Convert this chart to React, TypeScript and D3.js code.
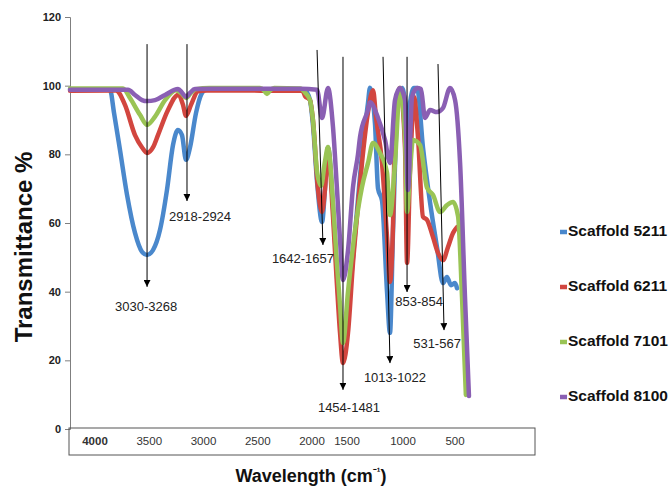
import React, { useEffect, useRef } from "react";
import * as d3 from "d3";

// FTIR spectra: [wavenumber (cm-1), transmittance %]
const scaffold5211: [number, number][] = [
  [3824, 98.8], [3473, 98.8], [3437, 92.0], [3385, 81.3], [3323, 68.2], [3253, 57.1],
  [3191, 51.6], [3147, 50.7], [3095, 52.1], [3033, 58.0], [2972, 69.6], [2919, 82.7],
  [2875, 87.1], [2840, 85.6], [2805, 78.4], [2770, 81.9], [2717, 92.0], [2673, 97.3],
  [2629, 98.8], [2300, 98.9], [2000, 98.8], [1759, 98.6], [1715, 95.8], [1689, 88.6],
  [1653, 72.0], [1609, 60.3], [1583, 70.0], [1557, 82.0], [1513, 65.0], [1478, 45.0],
  [1451, 32.0], [1425, 27.4], [1381, 35.0], [1337, 50.0], [1293, 67.0], [1258, 80.0],
  [1205, 95.0], [1188, 99.4], [1144, 89.0], [1117, 70.0], [1082, 66.5], [1038, 40.0],
  [1012, 28.0], [985, 58.0], [941, 96.7], [906, 99.3], [880, 95.0], [862, 75.0],
  [836, 95.0], [801, 99.3], [774, 99.3], [722, 82.0], [660, 66.0], [599, 53.0],
  [546, 42.5], [511, 44.3], [476, 41.9], [440, 42.5], [423, 41.0],
];

const scaffold6211: [number, number][] = [
  [3824, 98.5], [3420, 98.6], [3341, 94.4], [3253, 85.6], [3191, 82.0], [3147, 80.4],
  [3095, 82.0], [3051, 85.6], [2963, 92.9], [2875, 97.3], [2831, 94.4], [2805, 91.2],
  [2761, 94.4], [2699, 98.4], [2620, 98.6], [2300, 98.6], [2000, 98.5], [1780, 98.5],
  [1759, 97.0], [1715, 95.8], [1689, 90.0], [1645, 70.0], [1609, 63.2], [1583, 70.0],
  [1557, 81.5], [1513, 62.0], [1478, 42.0], [1451, 28.0], [1425, 19.2], [1381, 28.0],
  [1337, 48.4], [1293, 65.0], [1258, 77.5], [1205, 92.3], [1161, 98.7], [1135, 90.9],
  [1082, 77.5], [1038, 55.9], [1012, 42.8], [985, 60.0], [968, 87.1], [924, 99.3],
  [880, 82.0], [862, 48.4], [836, 75.0], [827, 82.1], [801, 96.7], [766, 85.1],
  [722, 61.8], [686, 60.9], [634, 55.9], [590, 51.3], [546, 49.2], [502, 53.0],
  [458, 57.1], [423, 58.8],
];

const scaffold7101: [number, number][] = [
  [3824, 99.2], [3358, 99.2], [3297, 96.4], [3209, 91.5], [3147, 88.6], [3077, 91.0],
  [2989, 95.8], [2893, 98.7], [2840, 97.6], [2805, 96.4], [2761, 97.9], [2717, 99.0],
  [2600, 99.3], [2154, 99.3], [2119, 98.6], [2093, 97.6], [2066, 98.6], [2030, 99.3],
  [1800, 99.2], [1759, 98.0], [1715, 95.8], [1689, 90.0], [1653, 75.0], [1618, 70.8],
  [1583, 78.0], [1557, 82.1], [1513, 66.0], [1478, 48.0], [1451, 36.0], [1425, 25.1],
  [1381, 40.0], [1319, 58.0], [1258, 70.5], [1205, 77.5], [1161, 83.3], [1100, 80.4],
  [1038, 74.6], [1012, 62.3], [968, 77.5], [924, 99.3], [880, 85.0], [862, 63.2],
  [836, 75.0], [810, 84.2], [748, 82.7], [686, 70.2], [634, 68.2], [572, 63.2],
  [511, 65.2], [458, 66.1], [414, 62.0], [379, 38.5], [345, 9.9],
];

const scaffold8100: [number, number][] = [
  [3824, 98.8], [3314, 98.8], [3253, 97.3], [3191, 95.8], [3147, 95.5], [3077, 95.8],
  [2989, 97.3], [2875, 99.0], [2840, 98.0], [2805, 96.7], [2770, 97.9], [2726, 99.0],
  [2600, 99.1], [1800, 99.1], [1653, 98.8], [1609, 90.6], [1557, 99.3], [1513, 88.0],
  [1478, 70.0], [1451, 55.0], [1425, 43.4], [1381, 52.0], [1337, 70.5], [1293, 80.0],
  [1275, 85.1], [1205, 93.0], [1188, 95.2], [1117, 90.6], [1056, 84.2], [1012, 77.5],
  [968, 95.8], [924, 99.3], [880, 95.8], [854, 69.6], [818, 96.7], [774, 99.3],
  [740, 99.0], [704, 90.6], [660, 92.9], [599, 92.3], [546, 93.5], [484, 99.3],
  [440, 95.8], [396, 77.5], [353, 38.5], [318, 9.6],
];

const seriesNames = ["Scaffold 5211", "Scaffold 6211", "Scaffold 7101", "Scaffold 8100"];
const seriesColors = ["#4a88cc", "#d2463f", "#9ac455", "#8a5fb3"];
const seriesData = [scaffold5211, scaffold6211, scaffold7101, scaffold8100];

// peak annotations: label, arrow top [wn, T], arrow tip [wn, T]
const peakLabels = ["3030-3268", "2918-2924", "1642-1657", "1454-1481", "1013-1022", "853-854", "531-567"];
const arrowTops: [number, number][] = [
  [3147, 112.1], [2796, 112.1], [1653, 110.4], [1425, 108.4], [1073, 108.4], [862, 108.4], [590, 106.3],
];
const arrowTips: [number, number][] = [
  [3147, 41.4], [2796, 66.4], [1601, 53.6], [1425, 11.4], [1012, 19.2], [862, 39.9], [537, 28.8],
];
// label offset from the arrow tip (px)
const labelOffsets: [number, number][] = [
  [-1, 21], [13, 17], [-20, 15], [6, 19], [5, 15], [12, 11], [-7, 14],
];

const yTicks = [0, 20, 40, 60, 80, 100, 120];
const boxTicks = [4000, 3500, 3000, 2500, 2000, 1500, 1000, 500];

const W = 669;
const H = 486;

export default function App() {
  const svgRef = useRef<SVGSVGElement>(null);

  useEffect(() => {
    if (!svgRef.current) return;
    const svg = d3.select(svgRef.current);
    svg.selectAll("*").remove();

    const font = "Liberation Sans, Arial, sans-serif";

    const x = d3.scaleLinear().domain([4000, 300]).range([50, 471]);
    const y = d3.scaleLinear().domain([0, 120]).range([429, 17]);
    // the wavelength box under the plot has its own uneven spacing
    const boxX = d3
      .scaleLinear()
      .domain([4000, 2000, 1500, 1000, 500])
      .range([95, 312, 347, 403, 455]);

    // y axis
    const yAxis = svg
      .append("g")
      .attr("transform", "translate(70,0)")
      .call(d3.axisLeft(y).tickValues(yTicks).tickSize(5).tickPadding(4));
    yAxis.select(".domain").attr("stroke", "#7f7f7f");
    yAxis.selectAll(".tick line").attr("stroke", "#7f7f7f");
    yAxis
      .selectAll("text")
      .attr("font-family", font)
      .attr("font-size", 11)
      .attr("font-weight", "bold")
      .attr("fill", "#222");

    // box with wavelength labels
    svg
      .append("rect")
      .attr("x", 69)
      .attr("y", 428)
      .attr("width", 466)
      .attr("height", 27)
      .attr("fill", "none")
      .attr("stroke", "#555")
      .attr("stroke-width", 1);

    svg
      .append("g")
      .selectAll("text")
      .data(boxTicks)
      .join("text")
      .attr("x", (d) => boxX(d))
      .attr("y", 445)
      .attr("text-anchor", "middle")
      .attr("font-family", font)
      .attr("font-size", 11.5)
      .attr("font-weight", (d, i) => (i === 0 ? "bold" : "normal"))
      .attr("fill", "#333")
      .text((d) => d);

    // spectra
    const line = d3
      .line<[number, number]>()
      .x((d) => x(d[0]))
      .y((d) => y(d[1]))
      .curve(d3.curveMonotoneX);

    seriesData.forEach((data, i) => {
      svg
        .append("path")
        .datum(data)
        .attr("d", line)
        .attr("fill", "none")
        .attr("stroke", seriesColors[i])
        .attr("stroke-width", 4.5)
        .attr("stroke-linejoin", "round")
        .attr("stroke-linecap", "round");
    });

    // arrows
    svg
      .append("defs")
      .append("marker")
      .attr("id", "arrowHead")
      .attr("viewBox", "0 0 10 10")
      .attr("refX", 10)
      .attr("refY", 5)
      .attr("markerWidth", 7)
      .attr("markerHeight", 7)
      .attr("markerUnits", "userSpaceOnUse")
      .attr("orient", "auto")
      .append("path")
      .attr("d", "M0,0L10,5L0,10Z")
      .attr("fill", "#000");

    const ann = svg.append("g");
    peakLabels.forEach((label, i) => {
      const tx = x(arrowTips[i][0]);
      const ty = y(arrowTips[i][1]);
      ann
        .append("line")
        .attr("x1", x(arrowTops[i][0]))
        .attr("y1", y(arrowTops[i][1]))
        .attr("x2", tx)
        .attr("y2", ty)
        .attr("stroke", "#000")
        .attr("stroke-width", 1)
        .attr("marker-end", "url(#arrowHead)");
      ann
        .append("text")
        .attr("x", tx + labelOffsets[i][0])
        .attr("y", ty + labelOffsets[i][1])
        .attr("text-anchor", "middle")
        .attr("dominant-baseline", "middle")
        .attr("font-family", font)
        .attr("font-size", 13)
        .attr("fill", "#222")
        .text(label);
    });

    // legend
    const legend = svg.append("g");
    seriesNames.forEach((name, i) => {
      const ly = 232 + i * 55;
      legend
        .append("line")
        .attr("x1", 560)
        .attr("x2", 567)
        .attr("y1", ly)
        .attr("y2", ly)
        .attr("stroke", seriesColors[i])
        .attr("stroke-width", 4.5);
      legend
        .append("text")
        .attr("x", 568)
        .attr("y", ly)
        .attr("dominant-baseline", "middle")
        .attr("font-family", font)
        .attr("font-size", 15.5)
        .attr("font-weight", "bold")
        .attr("fill", "#111")
        .text(name);
    });

    // axis titles
    svg
      .append("text")
      .attr("transform", "translate(32,247) rotate(-90)")
      .attr("text-anchor", "middle")
      .attr("font-family", font)
      .attr("font-size", 24)
      .attr("font-weight", "bold")
      .attr("fill", "#111")
      .text("Transmittance %");

    const xt = svg
      .append("text")
      .attr("x", 311)
      .attr("y", 482)
      .attr("text-anchor", "middle")
      .attr("font-family", font)
      .attr("font-size", 18)
      .attr("font-weight", "bold")
      .attr("fill", "#111");
    xt.append("tspan").text("Wavelength (cm");
    xt.append("tspan").attr("dy", -6).attr("font-size", 11).text("⁻¹");
    xt.append("tspan").attr("dy", 6).text(")");
  }, []);

  return (
    <div style={{ position: "absolute", left: 0, top: 0, width: W, height: H, background: "#fff" }}>
      <svg ref={svgRef} width={W} height={H} />
    </div>
  );
}
